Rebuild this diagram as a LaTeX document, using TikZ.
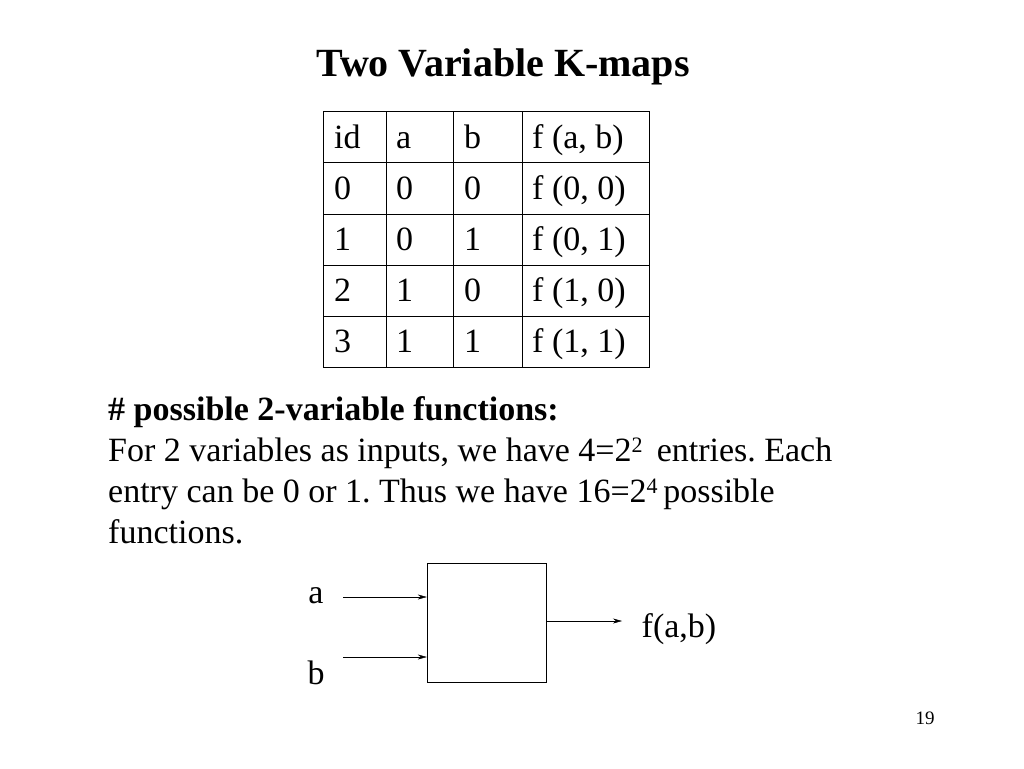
\documentclass[tikz,border=0pt]{standalone}
\usepackage{fontspec}
\setmainfont{Liberation Serif}
\usetikzlibrary{arrows.meta}
\frenchspacing

\begin{document}
\begin{tikzpicture}[x=1pt,y=-1pt,
    body/.style={font=\fontsize{34}{41}\selectfont, anchor=base west, inner sep=0pt},
    cell/.style={font=\fontsize{34}{38}\selectfont, anchor=base west, inner sep=0pt},
    sig/.style={-{Stealth[length=9pt,width=5pt]}, thin}]
    \useasboundingbox (0,0) rectangle (1024,768);

    % Title
    \node[font=\fontsize{40}{44}\selectfont\bfseries, anchor=base] (title) at (503,77) {Two Variable K-maps};

    % Truth table
    \draw[thick] (323,111) rectangle (649,367);
    \foreach \y in {162,214,265,316} \draw[thick] (323,\y) -- (649,\y);
    \foreach \x in {386,453,522} \draw[thick] (\x,111) -- (\x,367);
    \foreach \r/\i/\a/\b/\f [count=\k from 0] in {
        id/id/a/b/{f (a, b)},
        0/0/0/0/{f (0, 0)},
        1/1/0/1/{f (0, 1)},
        2/2/1/0/{f (1, 0)},
        3/3/1/1/{f (1, 1)}} {
        \pgfmathsetmacro{\yb}{148+51.2*\k}
        \node[cell] (id\r) at (334,\yb) {\i};
        \node[cell] (a\r) at (396,\yb) {\a};
        \node[cell] (b\r) at (464,\yb) {\b};
        \node[cell] (f\r) at (532,\yb) {\f};
    }

    % Text
    \node[body, font=\fontsize{34}{41}\selectfont\bfseries] (head) at (108,420) {\# possible 2-variable functions:};
    \node[body] (line1) at (108,461) {For 2 variables as inputs, we have 4=2{\fontsize{22}{24}\selectfont\raisebox{9pt}{2}}\, entries. Each};
    \node[body] (line2) at (108,502) {entry can be 0 or 1. Thus we have 16=2{\fontsize{22}{24}\selectfont\raisebox{9pt}{4}}\,possible};
    \node[body] (line3) at (108,543) {functions.};

    % Function box
    \node[draw, thin, minimum width=119pt, minimum height=119pt, inner sep=0pt] (fn) at (486.5,622.5) {};
    \node[body, anchor=base] (ina) at (316,603) {a};
    \node[body, anchor=base] (inb) at (316,684) {b};
    \node[body, anchor=base] (out) at (679,637) {f(a,b)};
    \coordinate (sa) at (343,597);
    \coordinate (sb) at (343,657);
    \coordinate (so) at (622,621);
    \draw[sig] (sa) -- (sa -| fn.west);
    \draw[sig] (sb) -- (sb -| fn.west);
    \draw[sig] (so -| fn.east) -- (so);

    % Page number
    \node[font=\fontsize{19}{20}\selectfont, anchor=base] (page) at (925,724) {19};
\end{tikzpicture}
\end{document}
